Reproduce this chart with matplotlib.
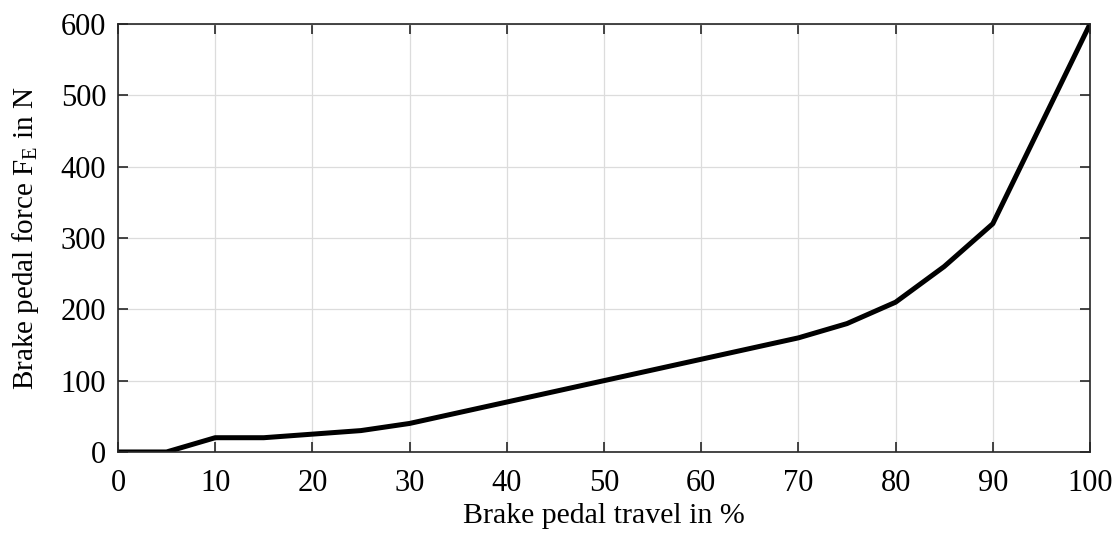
import matplotlib as mpl
mpl.use('Agg')
import matplotlib.pyplot as plt

# pedal travel in % and the force needed at the pedal
travel = [0, 5, 10, 15, 20, 25, 30, 35, 40, 50, 60, 70, 75, 80, 85, 90, 95, 100]
force = [0, 0, 20, 20, 25, 30, 40, 55, 70, 100, 130, 160, 180, 210, 260, 320, 460, 600]

xticks = list(range(0, 101, 10))
yticks = list(range(0, 601, 100))

plt.rcParams['font.family'] = 'Liberation Serif'
plt.rcParams['mathtext.fontset'] = 'custom'
plt.rcParams['mathtext.rm'] = 'Liberation Serif'
plt.rcParams['mathtext.it'] = 'Liberation Serif'

fig = plt.figure(figsize=(11.16, 5.34), dpi=100)
ax = fig.add_axes([0.1057, 0.1536, 0.8710, 0.8014])
ax.plot(travel, force, color='black', linewidth=3.6, solid_capstyle='butt')

ax.set_xlim(0, 100)
ax.set_ylim(0, 600)
ax.set_xticks(xticks)
ax.set_yticks(yticks)
ax.grid(True, color='#dcdcdc', linewidth=0.9)
ax.set_axisbelow(True)
ax.tick_params(direction='in', length=7, width=1.2, top=True, right=True,
               labelsize=22, colors='#262626', labelcolor='black')
ax.tick_params(axis='x', pad=12)
ax.tick_params(axis='y', pad=8.5)
for s in ax.spines.values():
    s.set_linewidth(1.2)
    s.set_color('#262626')

ax.set_xlabel('Brake pedal travel in %', fontsize=21.5, labelpad=4)
ax.set_ylabel(r'Brake pedal force F$_\mathrm{E}$ in N', fontsize=21, labelpad=14)

fig.savefig('out.png', dpi=100)
